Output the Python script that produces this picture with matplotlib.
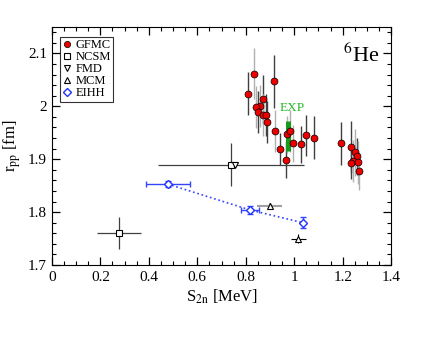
import matplotlib
matplotlib.use("Agg")
import matplotlib.pyplot as plt
from matplotlib.ticker import MultipleLocator

plt.rcParams['font.family'] = ['Liberation Serif', 'DejaVu Serif']
plt.rcParams['mathtext.fontset'] = 'stix'

# GFMC
gfmc_s = [0.811, 0.834, 0.918, 0.870, 0.858, 0.841, 0.852, 0.873, 0.884, 0.889,
          0.920, 0.943, 0.968, 0.969, 0.984, 0.994, 1.026, 1.048, 1.083,
          1.191, 1.236, 1.250, 1.261, 1.243, 1.234, 1.264, 1.268]
gfmc_r = [2.024, 2.062, 2.047, 2.013, 2.001, 1.999, 1.989, 1.983, 1.983, 1.970,
          1.953, 1.919, 1.899, 1.947, 1.953, 1.930, 1.928, 1.945, 1.941,
          1.930, 1.923, 1.913, 1.906, 1.897, 1.893, 1.894, 1.877]
gfmc_err = [0.040, 0.048, 0.050, 0.047, 0.040, 0.040, 0.040, 0.040, 0.040, 0.040,
            0.040, 0.030, 0.035, 0.035, 0.040, 0.035, 0.035, 0.038, 0.040,
            0.040, 0.050, 0.045, 0.035, 0.040, 0.030, 0.040, 0.035]
gfmc_errtype = ['d', 'g', 'd', 'd', 'g', 'g', 'd', 'g', 'd', 'd',
                'g', 'd', 'd', 'g', 'g', 'g', 'd', 'd', 'd',
                'd', 'd', 'g', 'd', 'g', 'd', 'g', 'g']

# NCSM
ncsm_s = [0.277, 0.739]
ncsm_r = [1.760, 1.890]
ncsm_xerr = [0.09, 0.30]
ncsm_yerr = [0.03, 0.04]

# FMD
fmd_s = [0.757]
fmd_r = [1.889]

# MCM
mcm_s = [0.898, 1.017]
mcm_r = [1.811, 1.750]
mcm_xerr = [0.05, 0.03]
mcm_yerr = [0.006, 0.009]

# EIHH
eihh_s = [0.478, 0.818, 1.035]
eihh_r = [1.853, 1.804, 1.780]
eihh_xerr = [0.09, 0.038, 0.0]
eihh_yerr = [0.005, 0.007, 0.010]

# Experiment
exp_s = 0.973
exp_r_lo = 1.915
exp_r_hi = 1.972

fig = plt.figure(figsize=(4.4, 3.4), dpi=100)
ax = fig.add_axes([0.118, 0.2206, 0.771, 0.70])

# GFMC error bars
for s, r, e, t in zip(gfmc_s, gfmc_r, gfmc_err, gfmc_errtype):
    col = '#404040' if t == 'd' else '#b0b0b0'
    ax.errorbar([s], [r], yerr=[e], fmt='none', ecolor=col, elinewidth=1.0, capsize=0, zorder=2)

# EXP bar
ax.vlines(exp_s, exp_r_lo, exp_r_hi, color='#1a9a1a', lw=3.6, zorder=3)
ax.text(exp_s + 0.02, 1.996, 'EXP', color='#22bb22', fontsize=9.5, ha='center', va='center')

ax.plot(gfmc_s, gfmc_r, 'o', ms=5, mfc='#ee0000', mec='black', mew=0.5, zorder=4, label='GFMC')

ax.errorbar(ncsm_s, ncsm_r, xerr=ncsm_xerr, yerr=ncsm_yerr, fmt='none', ecolor='#404040', elinewidth=0.9, capsize=0, zorder=2)
ax.plot(ncsm_s, ncsm_r, 's', ms=4.5, mfc='white', mec='black', mew=0.8, zorder=4, label='NCSM')
ax.plot(fmd_s, fmd_r, 'v', ms=5, mfc='white', mec='black', mew=0.8, zorder=4, label='FMD')

ax.errorbar(mcm_s[:1], mcm_r[:1], xerr=mcm_xerr[:1], yerr=mcm_yerr[:1], fmt='none', ecolor='#a0a0a0', elinewidth=1.5, capsize=0, zorder=2)
ax.errorbar(mcm_s[1:], mcm_r[1:], xerr=mcm_xerr[1:], yerr=mcm_yerr[1:], fmt='none', ecolor='black', elinewidth=0.8, capsize=0, zorder=2)
ax.plot(mcm_s, mcm_r, '^', ms=5, mfc='white', mec='black', mew=0.8, zorder=4, label='MCM')

ax.plot(eihh_s, eihh_r, ':', color='#3344ff', lw=1.2, zorder=3)
ax.errorbar(eihh_s, eihh_r, xerr=eihh_xerr, yerr=eihh_yerr, fmt='none', ecolor='#3344ff', elinewidth=1.0, capsize=2.5, capthick=1.0, zorder=3)
ax.plot(eihh_s, eihh_r, 'D', ms=4.5, mfc='white', mec='#2233ff', mew=1.0, zorder=4, label='EIHH')

ax.set_xlim(0, 1.4)
ax.set_ylim(1.7, 2.15)
ax.xaxis.set_minor_locator(MultipleLocator(0.05))
ax.yaxis.set_minor_locator(MultipleLocator(0.02))
ax.set_xticks([0, 0.2, 0.4, 0.6, 0.8, 1.0, 1.2, 1.4])
ax.set_xticklabels(['0', '0.2', '0.4', '0.6', '0.8', '1', '1.2', '1.4'])
ax.set_yticks([1.7, 1.8, 1.9, 2.0, 2.1])
ax.set_yticklabels(['1.7', '1.8', '1.9', '2', '2.1'])
ax.tick_params(which='both', direction='in', top=True, right=True, labelsize=11)
ax.tick_params(which='major', length=6, width=0.9)
ax.tick_params(which='minor', length=3, width=0.8)
ax.tick_params(axis='x', pad=4)

ax.set_xlabel(r'S$_{\mathrm{2n}}$ [MeV]', fontsize=12, labelpad=3)
ax.set_ylabel(r'r$_{\mathrm{pp}}$ [fm]', fontsize=12, labelpad=4)

ax.text(0.965, 0.88, r'$^{6}$He', transform=ax.transAxes, fontsize=16, ha='right', va='center')

leg = ax.legend(loc='upper left', bbox_to_anchor=(0.025, 0.96), fontsize=9, frameon=True, fancybox=False,
                edgecolor='black', borderpad=0.2, labelspacing=0.0, handlelength=0.7,
                handletextpad=0.3, borderaxespad=0.0, numpoints=1, markerscale=0.9)
leg.get_frame().set_linewidth(0.8)

fig.savefig('out.png', dpi=100)
